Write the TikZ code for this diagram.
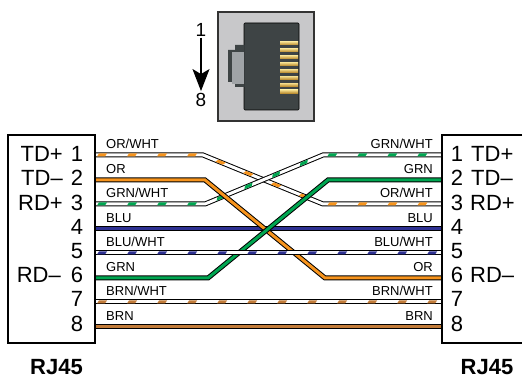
\documentclass[tikz,border=0pt]{standalone}
\usepackage{fontspec}
\setmainfont{Liberation Sans}
\usetikzlibrary{arrows.meta,decorations.markings,calc}
\definecolor{wor}{HTML}{F7941D}
\definecolor{wgrn}{HTML}{00A651}
\definecolor{wblu}{HTML}{2E3192}
\definecolor{wbrn}{HTML}{C27C3A}
\definecolor{jackgray}{HTML}{C8C8CA}
\definecolor{jackbody}{HTML}{3E4445}
\definecolor{latchlight}{HTML}{A0A4A7}
\definecolor{goldlight}{HTML}{F3DC8C}
\definecolor{golddark}{HTML}{B98A2E}
\tikzset{
  solidwire/.style={draw=black, line width=5pt, postaction={draw=#1, line width=3pt}},
  stripewire/.style={draw=black, line width=5pt, postaction={draw=white, line width=3pt},
    postaction={decorate, decoration={markings,
      mark=between positions 6pt and 1 step 30pt with {\fill[#1] (-5pt,-1.5pt) -- (3pt,-1.5pt) -- (5pt,1.5pt) -- (-3pt,1.5pt) -- cycle;}}}},
  boxline/.style={line width=2pt, draw=black},
  pinnum/.style={anchor=base, inner sep=0pt, font=\fontsize{22}{24}\selectfont},
  pinlblL/.style={anchor=base east, inner sep=0pt, font=\fontsize{22}{24}\selectfont},
  pinlblR/.style={anchor=base west, inner sep=0pt, font=\fontsize{22}{24}\selectfont},
  wlblL/.style={anchor=base west, inner sep=0pt, font=\fontsize{13}{15}\selectfont},
  wlblR/.style={anchor=base east, inner sep=0pt, font=\fontsize{13}{15}\selectfont},
  rjlbl/.style={anchor=base, inner sep=0pt, font=\fontsize{22}{24}\selectfont\bfseries},
  topnum/.style={inner sep=1pt, font=\fontsize{19}{21}\selectfont},
}
\begin{document}
\begin{tikzpicture}[x=1pt,y=1pt]
\useasboundingbox (0,0) rectangle (524,379);

% ---- top connector picture ----
\node[draw=black!80, line width=1.3pt, fill=jackgray, minimum width=96pt, minimum height=109pt, inner sep=0pt] (jack) at (266,312.5) {};
\node[draw=black, line width=0.6pt, fill=jackbody, rounded corners=1pt, minimum width=55pt, minimum height=87pt, inner sep=0pt] (body) at (271.5,312.5) {};
\fill[jackbody] (244.5,334) -- (235,334) -- (235,329) -- (228,329) -- (228,297) -- (235,297) -- (235,292) -- (244.5,292) -- cycle;
\fill[latchlight] (232,327) rectangle (244,295);
\foreach \k in {0,...,7}{
  \fill[top color=goldlight, bottom color=golddark] ({280},{335.7-6.9*\k-1.65}) rectangle ({298},{335.7-6.9*\k+1.65});
}
\node[topnum] (one) at (201,349) {1};
\node[topnum] (eight) at (201,279) {8};
\draw[line width=1.5pt, -{Stealth[length=22pt, width=17pt, inset=5pt]}, shorten >=1pt] (one) -- (eight);

% ---- pin coordinates ----
\foreach \i/\y in {1/224,2/199,3/175,4/150,5/126,6/101,7/77,8/52}{
  \coordinate (L\i) at (96,\y);
  \coordinate (R\i) at (442,\y);
}

% ---- wires ----
\draw[solidwire=wblu] (L4) -- (R4);
\draw[stripewire=wor] (L1) -- ($(L1)+(107,0)$) -- ($(R3)+(-119,0)$) -- (R3);
\draw[stripewire=wgrn] (L3) -- ($(L3)+(109,0)$) -- ($(R1)+(-119,0)$) -- (R1);
\draw[solidwire=wor] (L2) -- ($(L2)+(109,0)$) -- ($(R6)+(-117,0)$) -- (R6);
\draw[solidwire=wgrn] (L6) -- ($(L6)+(112,0)$) -- ($(R2)+(-114,0)$) -- (R2);
\draw[stripewire=wblu] (L5) -- (R5);
\draw[stripewire=wbrn] (L7) -- (R7);
\draw[solidwire=wbrn] (L8) -- (R8);

% ---- boxes ----
\node[boxline, fill=white, minimum width=87.3pt, minimum height=207.5pt, inner sep=0pt] (LB) at (51.65,139.75) {};
\fill[white] (441.5,36) rectangle (524,243.5);
\draw[boxline] (522,243.5) -| (441.5,36) -- (522,36);

% ---- pin numbers and signal names ----
\foreach \i in {1,...,8}{
  \node[pinnum] (ln\i) at ({77},{217.3-24.2*(\i-1)}) {\i};
  \node[pinnum] (rn\i) at ({457},{217.3-24.2*(\i-1)}) {\i};
}
\node[pinlblL] (ls1) at (63,217.3) {TD+};
\node[pinlblL] (ls2) at (63,193.1) {TD–};
\node[pinlblL] (ls3) at (63,168.9) {RD+};
\node[pinlblL] (ls6) at (61,96.3) {RD–};
\node[pinlblR] (rs1) at (471,217.3) {TD+};
\node[pinlblR] (rs2) at (471,193.1) {TD–};
\node[pinlblR] (rs3) at (470,168.9) {RD+};
\node[pinlblR] (rs6) at (470,96.3) {RD–};

% ---- wire labels ----
\node[wlblL] (wl1) at ($(L1)+(10,6.8)$) {OR/WHT};
\node[wlblL] (wl2) at ($(L2)+(10,6.8)$) {OR};
\node[wlblL] (wl3) at ($(L3)+(10,6.8)$) {GRN/WHT};
\node[wlblL] (wl4) at ($(L4)+(10,6.8)$) {BLU};
\node[wlblL] (wl5) at ($(L5)+(10,6.8)$) {BLU/WHT};
\node[wlblL] (wl6) at ($(L6)+(10,6.8)$) {GRN};
\node[wlblL] (wl7) at ($(L7)+(10,6.8)$) {BRN/WHT};
\node[wlblL] (wl8) at ($(L8)+(10,6.8)$) {BRN};
\node[wlblR] (wr1) at ($(R1)+(-9,6.8)$) {GRN/WHT};
\node[wlblR] (wr2) at ($(R2)+(-9,6.8)$) {GRN};
\node[wlblR] (wr3) at ($(R3)+(-9,6.8)$) {OR/WHT};
\node[wlblR] (wr4) at ($(R4)+(-9,6.8)$) {BLU};
\node[wlblR] (wr5) at ($(R5)+(-9,6.8)$) {BLU/WHT};
\node[wlblR] (wr6) at ($(R6)+(-9,6.8)$) {OR};
\node[wlblR] (wr7) at ($(R7)+(-9,6.8)$) {BRN/WHT};
\node[wlblR] (wr8) at ($(R8)+(-9,6.8)$) {BRN};

% ---- RJ45 captions ----
\node[rjlbl] (rjL) at (56.5,4) {RJ45};
\node[rjlbl] (rjR) at (487,4) {RJ45};
\end{tikzpicture}
\end{document}
